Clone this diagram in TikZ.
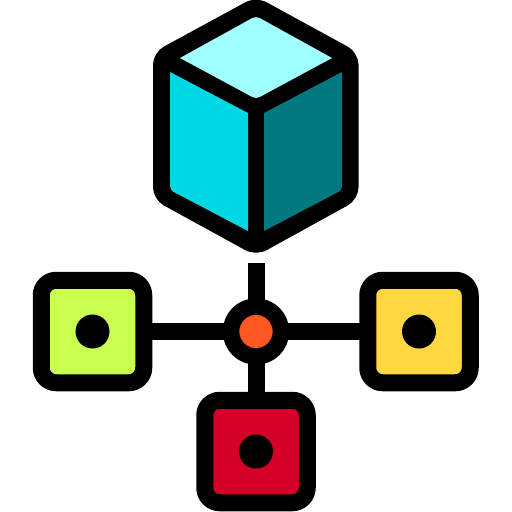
\documentclass[tikz,border=0pt]{standalone}
\usepackage{xcolor}
\usetikzlibrary{positioning}
\definecolor{cubeTop}{RGB}{160,255,255}
\definecolor{cubeLeft}{RGB}{0,217,227}
\definecolor{cubeRight}{RGB}{0,122,128}
\definecolor{boxGreen}{RGB}{200,255,80}
\definecolor{boxYellow}{RGB}{255,215,64}
\definecolor{boxRed}{RGB}{213,0,39}
\definecolor{hubOrange}{RGB}{255,87,34}
\tikzset{
    boxnode/.style={
        draw=black, line width=17pt, rounded corners=15pt, minimum size=102.5pt, inner sep=0pt, outer sep=0pt
    },
    dotnode/.style={
        circle, fill=black, minimum size=34pt, inner sep=0pt
    },
    hubnode/.style={
        circle, draw=black, fill=hubOrange, line width=16.5pt, minimum size=50pt, inner sep=0pt, outer sep=0pt
    },
    wire/.style={
        line width=17pt, black
    }
}

\begin{document}
\begin{tikzpicture}[x=1pt, y=-1pt]
    \useasboundingbox (0,0) rectangle (512,512);
    % cube
    \fill[black, rounded corners=12pt] (256,-3.5) -- (358.5,52.5) -- (358.5,199.5) -- (256,256) -- (153,199.5) -- (153,52.5) -- cycle;
    \fill[cubeTop] (180,58) [rounded corners=4pt] -- (256,16) [sharp corners] -- (332,58) [rounded corners=4pt] -- (256,99) [sharp corners] -- cycle;
    \fill[cubeLeft] (170,72) -- (248,113) -- (248,231) [rounded corners=4pt] -- (170,190) [sharp corners] -- cycle;
    \fill[cubeRight] (264,113) -- (342,72) [rounded corners=4pt] -- (342,190) [sharp corners] -- (264,231) -- cycle;
    % hub and boxes
    \node[hubnode] (hub) at (256,331.5) {};
    \node[boxnode, fill=boxGreen, left=87.25pt of hub] (leftbox) {};
    \node[boxnode, fill=boxYellow, right=86.75pt of hub] (rightbox) {};
    \node[boxnode, fill=boxRed, below=43.75pt of hub] (bottombox) {};
    \node[dotnode] (leftdot) at (leftbox) {};
    \node[dotnode] (rightdot) at (rightbox) {};
    \node[dotnode] (bottomdot) at (bottombox) {};
    \coordinate (stub) at (256,263);
    \draw[wire] (hub) -- (leftbox);
    \draw[wire] (hub) -- (rightbox);
    \draw[wire] (hub) -- (bottombox);
    \draw[wire] (hub) -- (stub);
\end{tikzpicture}
\end{document}
